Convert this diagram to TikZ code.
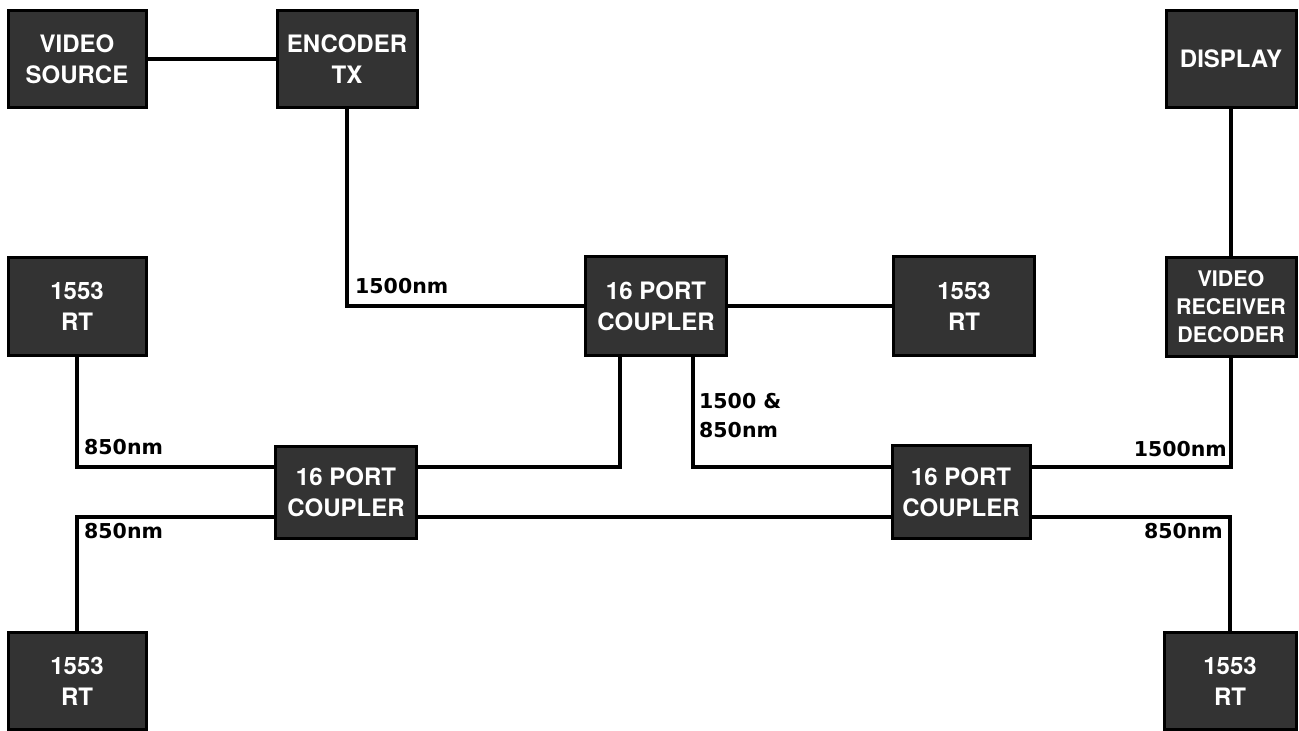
\documentclass[tikz,border=0pt]{standalone}
\usepackage{fontspec}
\newfontfamily\boxfont{TeX Gyre Heros}
\newfontfamily\labfont{DejaVu Sans}
\usetikzlibrary{calc}
\begin{document}
\begin{tikzpicture}[x=1pt,y=-1pt,
  unit/.style={draw=black, line width=3pt, fill=black!80, text=white,
    font=\boxfont\bfseries\fontsize{24}{31}\selectfont, align=center, inner sep=0pt},
  smallunit/.style={unit, font=\boxfont\bfseries\fontsize{21.5}{28}\selectfont},
  wire/.style={line width=3.2pt},
  lbl/.style={font=\labfont\bfseries\fontsize{20.5}{29}\selectfont, inner sep=0pt, anchor=base west},
  lblr/.style={lbl, anchor=base east}]
\useasboundingbox (0,0) rectangle (1299,731);
\fill[white] (0,0) rectangle (1299,731);
% units
\node[unit, minimum width=138, minimum height=97] (vs)   at (77,59)    {VIDEO\\SOURCE};
\node[unit, minimum width=140, minimum height=97] (enc)  at (347,59)   {ENCODER\\TX};
\node[unit, minimum width=130, minimum height=97] (disp) at (1231,59)  {DISPLAY};
\node[unit, minimum width=138, minimum height=98] (rtl)  at (77,306)   {1553\\RT};
\node[unit, minimum width=141, minimum height=99] (cc)   at (656,306)  {16 PORT\\COUPLER};
\node[unit, minimum width=141, minimum height=99] (rtm)  at (964,306)  {1553\\RT};
\node[smallunit, minimum width=130, minimum height=99] (vrd) at (1231,307) {VIDEO\\RECEIVER\\DECODER};
\node[unit, minimum width=141, minimum height=92] (lc)   at (346,492)  {16 PORT\\COUPLER};
\node[unit, minimum width=138, minimum height=93] (rc)   at (961,492)  {16 PORT\\COUPLER};
\node[unit, minimum width=138, minimum height=97] (rtbl) at (77,681)   {1553\\RT};
\node[unit, minimum width=132, minimum height=97] (rtbr) at (1230,681) {1553\\RT};
% connectors
\draw[wire] (vs.east) -- (enc.west);
\draw[wire] (enc.south) |- (cc.west);
\draw[wire] (cc.east) -- (rtm.west);
\draw[wire] (disp.south) -- (vrd.north);
\draw[wire] (vrd.south) |- ($(rc.east)+(0,-25)$);
\draw[wire] (rtl.south) |- ($(lc.west)+(0,-25)$);
\draw[wire] ($(cc.south)+(-36,0)$) |- ($(lc.east)+(0,-25)$);
\draw[wire] ($(cc.south)+(37,0)$) |- ($(rc.west)+(0,-25)$);
\draw[wire] ($(lc.east)+(0,25)$) -- ($(rc.west)+(0,25)$);
\draw[wire] ($(lc.west)+(0,25)$) -| (rtbl.north);
\draw[wire] ($(rc.east)+(0,25)$) -| (rtbr.north);
% labels
\node[lbl] (l1) at (355,293) {1500nm};
\node[lbl] (l2) at (84,454) {850nm};
\node[lbl] (l3a) at (699,408) {1500 \&};
\node[lbl] (l3b) at (699,437) {850nm};
\node[lblr] (l4) at (1227,456) {1500nm};
\node[lbl] (l5) at (84,538) {850nm};
\node[lblr] (l6) at (1223,538) {850nm};
\end{tikzpicture}
\end{document}
